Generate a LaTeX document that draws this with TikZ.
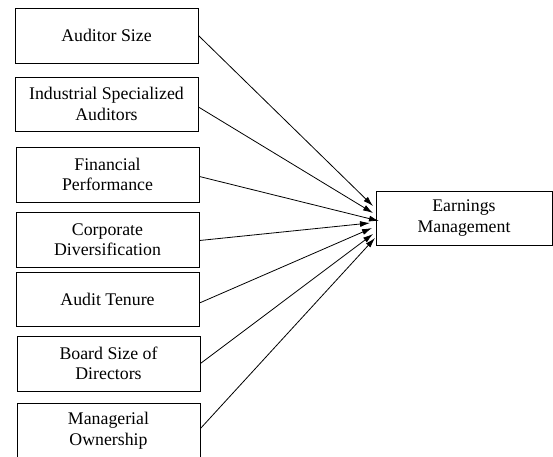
\documentclass[tikz,border=0pt]{standalone}
\usepackage{fontspec}
\setmainfont{Liberation Serif}
\usetikzlibrary{arrows.meta}
\begin{document}
\begin{tikzpicture}[x=1pt,y=-1pt,
  factor/.style={draw, line width=0.9pt, minimum width=183pt, minimum height=55pt,
    inner sep=0pt, align=center, font=\fontsize{17.8}{20.5}\selectfont},
  link/.style={line width=0.8pt, -{Latex[length=10pt,width=6pt]}}]
  \path[use as bounding box, clip] (0,0) rectangle (553,456);
  \fill[white] (0,0) rectangle (553,456);

  % determinants
  \node[factor] (size) at (106.5,35.5) {Auditor Size};
  \node[factor, minimum height=54pt] (spec) at (106.5,104) {Industrial Specialized\\Auditors};
  \node[factor] (perf) at (107.5,174.5) {Financial\\Performance};
  \node[factor] (div) at (107.5,239.5) {Corporate\\Diversification};
  \node[factor, minimum height=54pt] (ten) at (107.5,299) {Audit Tenure};
  \node[factor] (board) at (108.5,363.5) {Board Size of\\Directors};
  \node[factor] (own) at (108.5,430.5) {Managerial\\Ownership};

  % outcome
  \node[factor, minimum width=176pt, minimum height=54pt] (em) at (464,218) {Earnings\\Management};

  % arrow tips near the left side of the outcome box
  \coordinate (t1) at (373,206);
  \coordinate (t2) at (373,213);
  \coordinate (t3) at (379,221);
  \coordinate (t4) at (370,223);
  \coordinate (t5) at (372,228);
  \coordinate (t6) at (373,234);
  \coordinate (t7) at (375,238);

  \draw[link] (size.east) -- (t1);
  \draw[link] ([yshift=-3pt]spec.east) -- (t2);
  \draw[link] ([yshift=-2pt]perf.east) -- (t3);
  \draw[link] ([yshift=-1pt]div.east) -- (t4);
  \draw[link] ([yshift=-4pt]ten.east) -- (t5);
  \draw[link] (board.east) -- (t6);
  \draw[link] ([yshift=2pt]own.east) -- (t7);
\end{tikzpicture}
\end{document}
